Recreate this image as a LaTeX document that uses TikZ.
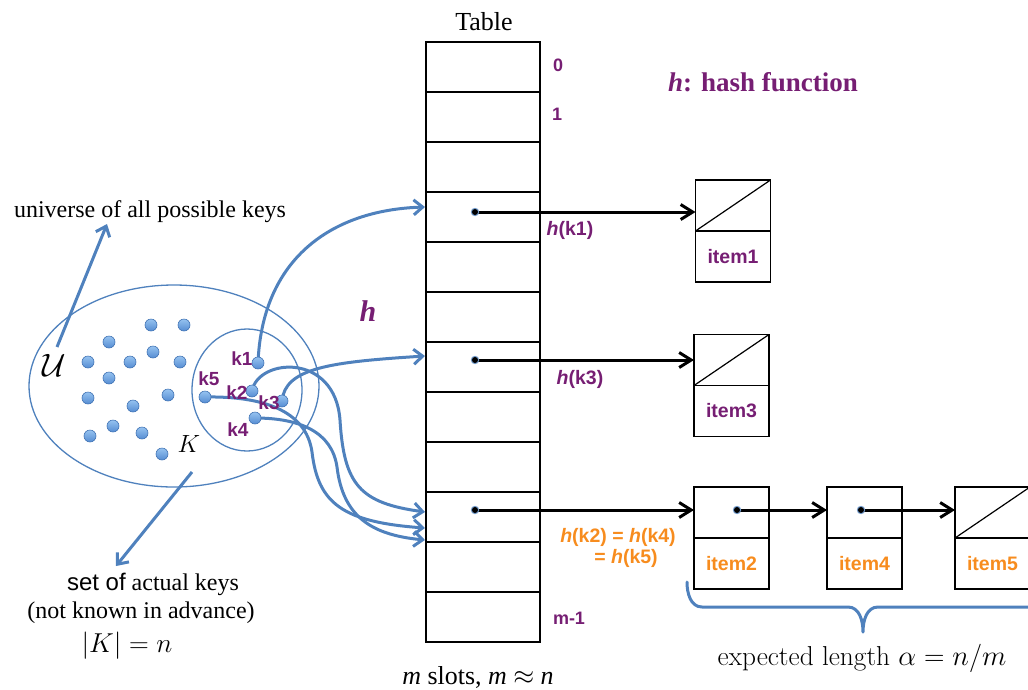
\documentclass[tikz,border=0pt]{standalone}
\usepackage{fontspec}
\usetikzlibrary{arrows.meta,shapes.geometric,calc}
\newfontfamily\tnr{Liberation Serif}
\newfontfamily\ars{Liberation Sans}
\definecolor{myblue}{RGB}{79,129,189}
\definecolor{dottop}{RGB}{150,195,240}
\definecolor{dotbot}{RGB}{85,140,210}
\definecolor{dotedge}{RGB}{65,115,180}
\definecolor{mypurple}{RGB}{118,30,115}
\definecolor{myorange}{RGB}{247,140,30}
\newcommand{\setfsz}[1]{\fontsize{#1}{#1}\selectfont}
\begin{document}
\begin{tikzpicture}[x=1pt,y=-1pt,
  cell/.style={draw, line width=1.4pt, minimum width=114pt, minimum height=50pt, inner sep=0pt, outer sep=0pt},
  icell/.style={draw, line width=1.4pt, minimum width=75pt, minimum height=51pt, inner sep=0pt, outer sep=0pt, font=\ars\bfseries\setfsz{19.5}},
  idx/.style={text=mypurple, font=\ars\bfseries\setfsz{18}, inner sep=0pt},
  keylab/.style={text=mypurple, font=\ars\bfseries\setfsz{19}, inner sep=0pt},
  hlab/.style={font=\ars\bfseries\setfsz{19.5}, inner sep=0pt},
  serif/.style={font=\tnr\setfsz{24}, inner sep=0pt},
  barrow/.style={draw=myblue, line width=3pt, -{Straight Barb[length=9pt,width=15pt]}},
  karrow/.style={draw=black, line width=3pt, -{Straight Barb[length=12pt,width=15pt]}},
  brace/.style={draw=myblue, line width=3pt, line cap=round},
  ring/.style={draw=myblue, line width=1.3pt, ellipse, inner sep=0pt},
  ball/.style={draw=dotedge, line width=0.6pt, top color=dottop, bottom color=dotbot},
]
\useasboundingbox (0,0) rectangle (1028,689);

% ---------- table ----------
\node[serif, font=\tnr\setfsz{26}] (title) at (484,22) {Table};
\foreach \i in {0,...,11} {
  \node[cell] (r\i) at (483,{67+50*\i}) {};
}
\node[idx] (l0) at (558,65) {0};
\node[idx] (l1) at (557,114) {1};
\node[idx] (lm) at (569,618) {m-1};
\node[serif, font=\tnr\setfsz{24}, scale=1.08] (slots) at (478,677) {\itshape m\upshape\ slots, \itshape m\upshape\ $\approx$ \itshape n};

\node[text=mypurple, font=\tnr\bfseries\setfsz{27}, inner sep=0pt] (hf) at (763,82) {\itshape h\upshape: hash function};
\node[text=mypurple, font=\tnr\bfseries\itshape\setfsz{30}, inner sep=0pt] (hbig) at (368,311) {h};

% ---------- item boxes ----------
\node[icell] (i1t) at (733,205.5) {};
\node[icell, anchor=north, text=mypurple] (i1b) at (i1t.south) {item1};
\node[icell] (i3t) at (731.5,360) {};
\node[icell, anchor=north, text=mypurple] (i3b) at (i3t.south) {item3};
\node[icell] (i2t) at (731.5,512.5) {};
\node[icell, anchor=north, text=myorange] (i2b) at (i2t.south) {item2};
\node[icell] (i4t) at (864.5,512.5) {};
\node[icell, anchor=north, text=myorange] (i4b) at (i4t.south) {item4};
\node[icell] (i5t) at (992.5,512.5) {};
\node[icell, anchor=north, text=myorange] (i5b) at (i5t.south) {item5};
\draw[line width=1.2pt] (i1t.south west) -- (i1t.north east);
\draw[line width=1.2pt] (i3t.south west) -- (i3t.north east);
\draw[line width=1.2pt] (i5t.south west) -- (i5t.north east);

% pointer dots
\coordinate (d1) at (475,212);
\coordinate (d3) at (475,360);
\coordinate (d2) at (475,510);
\coordinate (e2) at (737,510);
\coordinate (e4) at (861,510);
\draw[karrow] (d1) -- (d1 -| i1t.west);
\draw[karrow] (d3) -- (d3 -| i3t.west);
\draw[karrow] (d2) -- (d2 -| i2t.west);
\draw[karrow] (e2) -- (e2 -| i4t.west);
\draw[karrow] (e4) -- (e4 -| i5t.west);
\foreach \p in {d1,d3,d2,e2,e4} {
  \fill[myblue!80] (\p) circle (4.2pt);
  \fill[black] (\p) circle (3pt);
}

\node[hlab, text=mypurple] (hk1) at (570,230) {\itshape h\upshape(k1)};
\node[hlab, text=mypurple] (hk3) at (580,379) {\itshape h\upshape(k3)};
\node[hlab, text=myorange] (hk2) at (618,537) {\itshape h\upshape(k2) = \itshape h\upshape(k4)};
\node[hlab, text=myorange] (hk5) at (626,558) {= \itshape h\upshape(k5)};

% brace
\draw[brace] (687,582) to[out=-90,in=180] (702,607) -- (848,607) to[out=0,in=90] (863,632)
  (863,632) to[out=90,in=180] (878,607) -- (1040,607);
\node[font=\setfsz{24}, scale=1.14, inner sep=0pt] (exp) at (862,658) {expected length $\alpha = n/m$};

% ---------- universe ----------
\node[ring, minimum width=290pt, minimum height=202pt] (U) at (174,386) {};
\node[ring, minimum width=110pt, minimum height=122pt] (Kset) at (247,390) {};
\foreach \x/\y in {151/325,184/325,109/342,153/352,88/362,130/362,180/362,109/378,
                   88/398,168/395,133/406,113/426,142/433,90/436,162/454} {
  \path[ball] (\x,\y) circle (6pt);
}
\node[font=\setfsz{24}, scale=1.3, inner sep=0pt] (Ulab) at (54,365) {$\mathcal{U}$};
\node[font=\setfsz{24}, inner sep=0pt] (Klab) at (189,444) {$K$};

\coordinate (k1) at (258,363);
\coordinate (k2) at (252,391);
\coordinate (k3) at (282,401);
\coordinate (k4) at (255,418);
\coordinate (k5) at (205,397);
\coordinate (t1) at (425,207);
\coordinate (t3) at (425,356);
\coordinate (t2) at (425,512);
\coordinate (t5) at (425,528);
\coordinate (t4) at (425,540);

\draw[barrow] (k1) .. controls (262,260) and (330,210) .. (t1);
\draw[barrow] (k3) .. controls (285,368) and (330,362) .. (t3);
\draw[barrow] (k2) .. controls (258,358) and (335,352) .. (340,420) .. controls (344,485) and (360,503) .. (t2);
\draw[barrow] (k5) .. controls (262,396) and (306,410) .. (312,452) .. controls (318,503) and (342,522) .. (t5);
\draw[barrow] (k4) .. controls (300,418) and (332,432) .. (337,467) .. controls (343,517) and (372,535) .. (t4);

\foreach \p in {k1,k2,k3,k4,k5} {
  \path[ball] (\p) circle (6pt);
}
\node[keylab] (lk1) at (242,359) {k1};
\node[keylab] (lk5) at (209,379) {k5};
\node[keylab] (lk2) at (237,393) {k2};
\node[keylab] (lk3) at (269,403) {k3};
\node[keylab] (lk4) at (238,430) {k4};

% labels left
\node[serif] (univ) at (150,212) {universe of all possible keys};
\coordinate (ua) at (57,347);
\coordinate (ub) at (107,224);
\draw[barrow] (ua) -- (ub);
\coordinate (ka) at (192,472);
\coordinate (kb) at (116,566);
\draw[barrow] (ka) -- (kb);
\node[serif] (set) at (153,584) {{\ars set of} actual keys};
\node[serif] (nk) at (141,613) {(not known in advance)};
\node[font=\setfsz{24}, scale=1.1, inner sep=0pt] (kn) at (127,646) {$|K| = n$};
\end{tikzpicture}
\end{document}
